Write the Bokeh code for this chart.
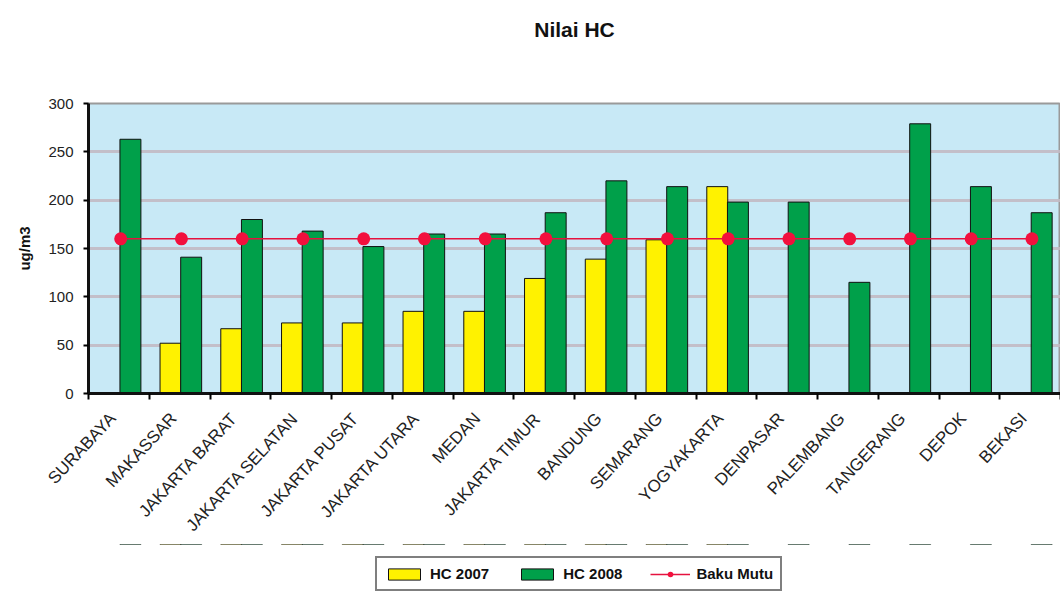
import math
import numpy as np
from bokeh.plotting import figure
from bokeh.layouts import column
from bokeh.models import (ColumnDataSource, Range1d, FixedTicker, Legend, LegendItem,
                          LinearAxis)
from bokeh.transform import dodge
from bokeh.embed import file_html
from bokeh.resources import INLINE

nan = float("nan")

cities = ["SURABAYA", "MAKASSAR", "JAKARTA BARAT", "JAKARTA SELATAN", "JAKARTA PUSAT",
          "JAKARTA UTARA", "MEDAN", "JAKARTA TIMUR", "BANDUNG", "SEMARANG", "YOGYAKARTA",
          "DENPASAR", "PALEMBANG", "TANGERANG", "DEPOK", "BEKASI"]
hc_2007 = [nan, 52, 67, 73, 73, 85, 85, 119, 139, 159, 214, nan, nan, nan, nan, nan]
hc_2008 = [263, 141, 180, 168, 152, 165, 165, 187, 220, 214, 198, 198, 115, 279, 214, 187]
baku_mutu = [160, 160, 160, 160, 160, 160, 160, 160, 160, 160, 160, 160, 160, 160, 160, 160]
y_ticks = [0, 50, 100, 150, 200, 250, 300]
series_names = ["HC 2007", "HC 2008", "Baku Mutu"]
chart_title = "Nilai HC"
y_label = "ug/m3"

FONT = "Liberation Sans"
C07, C08, CBM = "#FFF200", "#00A04A", "#F2103D"

n = len(cities)
centers = [i + 0.5 for i in range(n)]
label_pos = [c - 0.1 for c in centers]
bounds = [float(i) for i in range(n + 1)]

src = ColumnDataSource(dict(x=centers, hc2007=hc_2007, hc2008=hc_2008, baku=baku_mutu))

p = figure(frame_width=972, frame_height=290, output_backend="svg", toolbar_location=None,
           x_range=Range1d(0, n), y_range=Range1d(0, 300),
           min_border_left=88, min_border_right=0, min_border_top=103, min_border_bottom=0,
           background_fill_color="#C8E9F6", border_fill_color="white",
           outline_line_color="#9A9A9A", outline_line_width=2)

xa = p.below[0]
ya = p.left[0]

# title drawn as the label of an empty top axis (keeps it high above the frame)
top_axis = LinearAxis(ticker=FixedTicker(ticks=[]), axis_line_color=None,
                      major_tick_out=0, major_tick_in=0, minor_tick_out=0, minor_tick_in=0,
                      major_label_standoff=0, axis_label=chart_title,
                      axis_label_standoff=63, axis_label_text_font=FONT,
                      axis_label_text_font_size="21px", axis_label_text_font_style="bold",
                      axis_label_text_color="#111111")
p.add_layout(top_axis, "above")

# grid
p.xgrid.visible = False
p.ygrid.ticker = FixedTicker(ticks=y_ticks)
p.ygrid.grid_line_color = "#C2BAC4"
p.ygrid.grid_line_width = 3
p.ygrid.grid_line_alpha = 0.9


def draw_series(fig):
    r07 = fig.vbar(x=dodge("x", -0.15, range=fig.x_range), top="hc2007", width=0.345,
                   source=src, fill_color=C07, line_color="#111111", line_width=1)
    r08 = fig.vbar(x=dodge("x", 0.19, range=fig.x_range), top="hc2008", width=0.345,
                   source=src, fill_color=C08, line_color="#111111", line_width=1)
    rl = fig.line(x=dodge("x", 0.03, range=fig.x_range), y="baku", source=src,
                  line_color="#E5123F", line_width=1.5)
    rs = fig.scatter(x=dodge("x", 0.03, range=fig.x_range), y="baku", source=src, size=13,
                     fill_color=CBM, line_color=None)
    return r07, r08, rl, rs


draw_series(p)

# x axis
xa.ticker = FixedTicker(ticks=label_pos, minor_ticks=bounds)
xa.major_label_overrides = {c: name for c, name in zip(label_pos, cities)}
xa.major_label_orientation = 0.82
xa.major_tick_out = 0
xa.major_tick_in = 0
xa.minor_tick_out = 6
xa.minor_tick_in = 0
xa.minor_tick_line_width = 2
xa.minor_tick_line_color = "black"
xa.axis_line_width = 3
xa.axis_line_color = "#111111"
xa.major_label_text_font = FONT
xa.major_label_text_font_size = "17px"
xa.major_label_text_color = "#222222"
xa.major_label_standoff = 16

# y axis
ya.ticker = FixedTicker(ticks=y_ticks)
ya.axis_label = y_label
ya.axis_label_text_font = FONT
ya.axis_label_text_font_size = "15px"
ya.axis_label_text_font_style = "bold"
ya.axis_label_text_color = "#111111"
ya.axis_label_standoff = 12
ya.major_tick_out = 5
ya.major_tick_in = 0
ya.major_tick_line_width = 2
ya.minor_tick_out = 0
ya.minor_tick_in = 0
ya.axis_line_width = 3
ya.axis_line_color = "#111111"
ya.major_label_text_font = FONT
ya.major_label_text_font_size = "15px"
ya.major_label_text_color = "#222222"
ya.major_label_standoff = 10

# legend strip below the chart: same series, view range chosen so only the legend shows
lf = figure(width=1060, height=49, output_backend="svg", toolbar_location=None,
            x_range=Range1d(0, n), y_range=Range1d(-2, -1), x_axis_type=None,
            y_axis_type=None, min_border=0, outline_line_color=None,
            background_fill_color="white", border_fill_color="white")
lf.xgrid.visible = False
lf.ygrid.visible = False
k07, k08, kl, ks = draw_series(lf)

legend = Legend(items=[LegendItem(label=series_names[0], renderers=[k07]),
                       LegendItem(label=series_names[1], renderers=[k08]),
                       LegendItem(label=series_names[2], renderers=[kl, ks])],
                orientation="horizontal", location=(287, 2))
legend.border_line_color = "black"
legend.border_line_width = 2
legend.background_fill_color = "white"
legend.background_fill_alpha = 1
legend.label_text_font = FONT
legend.label_text_font_size = "15px"
legend.label_text_font_style = "bold"
legend.label_text_color = "#111111"
legend.glyph_width = 40
legend.glyph_height = 14
legend.spacing = 28
legend.padding = 7
legend.label_standoff = 6
legend.margin = 0
lf.add_layout(legend, "center")

page = column(p, lf, spacing=0)
open("out.html", "w").write(file_html(page, INLINE))
